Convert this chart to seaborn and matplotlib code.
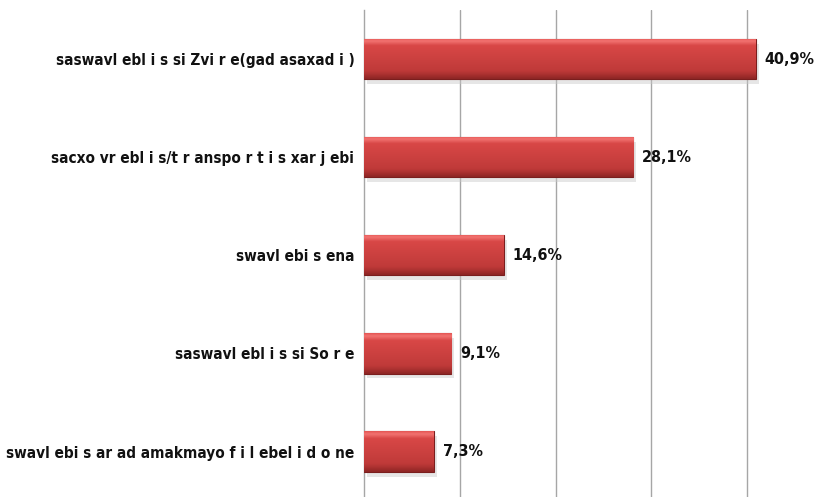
import matplotlib

matplotlib.use("Agg")
import matplotlib.pyplot as plt
import numpy as np
import pandas as pd
import seaborn as sns
from matplotlib import font_manager
from matplotlib.colors import LinearSegmentedColormap

# values
categories = [
    "saswavl ebl i s si Zvi r e(gad asaxad i )",
    "sacxo vr ebl i s/t r anspo r t i s xar j ebi",
    "swavl ebi s ena",
    "saswavl ebl i s si So r e",
    "swavl ebi s ar ad amakmayo f i l ebel i d o ne",
]
shares = [40.9, 28.1, 14.6, 9.1, 7.3]
value_labels = ["40,9%", "28,1%", "14,6%", "9,1%", "7,3%"]

frame = pd.DataFrame({"category": categories, "share": shares})


def pick_narrow_font():
    # the reference uses a narrow bold face; take one if the box has it
    names = {f.name for f in font_manager.fontManager.ttflist}
    if "Liberation Sans Narrow" in names:
        return ["Liberation Sans Narrow", "DejaVu Sans"], "normal", 12.5
    path = font_manager.findfont(
        font_manager.FontProperties(family="DejaVu Sans", stretch="condensed", weight="bold"))
    if "Condensed" in path:
        return ["DejaVu Sans", "DejaVu Sans"], "condensed", 11
    return ["Liberation Sans", "DejaVu Sans"], "normal", 11


families, stretch, label_size = pick_narrow_font()

sns.set_style("white")
plt.rcParams["font.family"] = families
plt.rcParams["font.stretch"] = stretch

fig = plt.figure(figsize=(8.3, 4.97), dpi=100)
ax = fig.add_axes([0.4386, -0.0073, 0.5564, 0.9872])

sns.barplot(data=frame, x="share", y="category", orient="h", color="#C94040",
            width=0.41, ax=ax, zorder=3)

# gradient fill to mimic the bevelled office-style bars
bar_cmap = LinearSegmentedColormap.from_list(
    "bar",
    [(0.0, "#E35553"), (0.07, "#F27371"), (0.18, "#D84746"), (0.5, "#CC4140"),
     (0.8, "#BF3A39"), (0.9, "#A8302F"), (1.0, "#8C2524")])
grad = np.linspace(0, 1, 128).reshape(-1, 1)
bars = list(ax.patches)
for patch in bars:
    x0, y0 = patch.get_x(), patch.get_y()
    w, h = patch.get_width(), patch.get_height()
    # soft shadow below/right of each bar
    ax.add_patch(plt.Rectangle((x0 + 0.3, y0 + 0.05), w, h, color="#c8c8c8",
                               alpha=0.45, zorder=2, lw=0))
    img = ax.imshow(grad, cmap=bar_cmap, aspect="auto", origin="upper",
                    extent=(x0, x0 + w, y0 + h, y0), zorder=4,
                    interpolation="bilinear")
    img.set_clip_path(patch)
    patch.set_edgecolor("#7A1E1E")
    patch.set_linewidth(0.8)

for patch, txt in zip(bars, value_labels):
    ax.text(patch.get_width() + 0.9, patch.get_y() + patch.get_height() / 2, txt,
            ha="left", va="center", fontsize=label_size + 0.5, fontweight="bold",
            color="#111111")

ax.set_xlim(0, 48.2)
ax.set_ylim(len(categories) - 0.5, -0.5)
ax.set_xticks([10, 20, 30, 40])
ax.xaxis.grid(True, color="#A6A6A6", linewidth=1.0)
ax.set_axisbelow(True)
ax.tick_params(axis="x", length=0, labelbottom=False)
ax.tick_params(axis="y", length=0, pad=7)
for lbl in ax.get_yticklabels():
    lbl.set_fontsize(label_size)
    lbl.set_fontweight("bold")
    lbl.set_color("#111111")
ax.set_xlabel("")
ax.set_ylabel("")
for side in ("top", "right", "bottom"):
    ax.spines[side].set_visible(False)
ax.spines["left"].set_color("#A6A6A6")
ax.spines["left"].set_linewidth(1.0)

fig.savefig("out.png", dpi=100)
